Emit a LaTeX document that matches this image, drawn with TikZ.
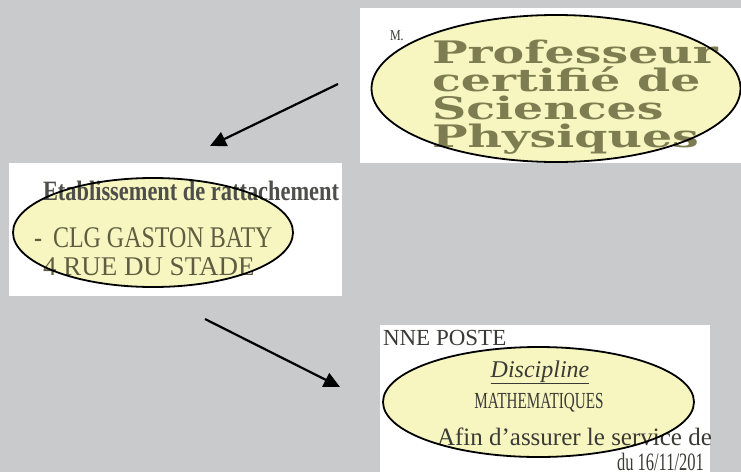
\documentclass[tikz,border=0pt]{standalone}
\usepackage{fontspec}
\setmainfont{Liberation Serif}
\newfontfamily\slabfont[FakeStretch=1.53]{DejaVu Serif}
\newfontfamily\narrowfont[FakeStretch=0.8]{Liberation Serif}
\newfontfamily\condfont[FakeStretch=0.66]{Liberation Serif}
\usetikzlibrary{arrows.meta,shapes.geometric,positioning}

\definecolor{bggray}{HTML}{C9CACC}
\definecolor{paleyellow}{HTML}{F7F6C0}
\definecolor{slabolive}{HTML}{7E7D52}
\definecolor{oliveink}{HTML}{5E5D42}
\definecolor{darkink}{HTML}{3A3A36}

\begin{document}
\begin{tikzpicture}[x=1pt,y=-1pt,
  % STYLES
  every node/.style={inner sep=0pt,outer sep=0pt},
  % OWNs
  panel/.style={rectangle,fill=white,draw=none},
  oval/.style={ellipse,fill=paleyellow,draw=none},
  ring/.style={ellipse,draw=black,line width=1.8pt,fill=none},
  slab/.style={anchor=base west,text=slabolive,font=\slabfont\bfseries\fontsize{31}{31}\selectfont},
  etab/.style={anchor=base west,text=oliveink,font=\narrowfont\fontsize{30}{32}\selectfont},
  doc/.style={text=darkink,font=\fontsize{24}{26}\selectfont},
  link/.style={-{Triangle[length=16pt,width=15pt]},line width=2.2pt}]

  \fill[bggray] (0,0) rectangle (741,472);
  \useasboundingbox (0,0) rectangle (741,472);

  % grade
  \node[panel,anchor=north west,minimum width=381pt,minimum height=155pt] (box1) at (360,8) {};
  \node[oval,minimum width=369pt,minimum height=147pt] (prof) at (556,88.5) {};
  \node[anchor=base west,text=darkink,font=\narrowfont\fontsize{15}{15}\selectfont] (mr) at (390,40) {M.};
  \node[slab] (p1) at (432,63) {Professeur};
  \node[slab] (p2) at (432,91) {certifié de};
  \node[slab] (p3) at (432,119) {Sciences};
  \node[slab] (p4) at (432,147) {Physiques};
  \node[ring,minimum width=369pt,minimum height=147pt] (profring) at (prof) {};

  % etablissement
  \node[panel,anchor=north west,minimum width=333pt,minimum height=133pt] (box2) at (9,163) {};
  \node[oval,minimum width=280pt,minimum height=109pt] (clg) at (153,232.5) {};
  \node[anchor=base west,text=darkink!90,font=\narrowfont\bfseries\fontsize{28}{30}\selectfont] (etab) at (43,200) {Etablissement de rattachement};
  \node[etab] (tiret) at (34,247) {-};
  \node[etab] (clgname) at (53,247) {CLG GASTON BATY};
  \node[etab,font=\fontsize{27}{29}\selectfont] (clgrue) at (43,275) {4 RUE DU STADE};
  \node[ring,minimum width=280pt,minimum height=109pt] (clgring) at (clg) {};

  % discipline
  \node[panel,anchor=north west,minimum width=330pt,minimum height=147pt] (box3) at (380,325) {};
  \node[oval,minimum width=311pt,minimum height=110pt] (disc) at (538.5,402) {};
  \begin{scope}
    \clip (box3.north west) rectangle (box3.south east);
    \node[doc,anchor=base west,font=\fontsize{23}{25}\selectfont] (poste) at (383,345) {NNE POSTE};
    \node[doc,anchor=base] (disctitle) at (540,377) {\underline{\textit{Discipline}}};
    \node[doc,anchor=base,font=\condfont\fontsize{23}{25}\selectfont] (math) at (539,408) {MATHEMATIQUES};
    \node[doc,anchor=base west,font=\fontsize{25}{27}\selectfont] (afin) at (437,445) {Afin d’assurer le service de};
    \node[doc,anchor=base west,font=\condfont\fontsize{25}{27}\selectfont] (date) at (617,470) {du 16/11/201};
  \end{scope}
  \node[ring,minimum width=311pt,minimum height=110pt] (discring) at (disc) {};

  % arrows
  \coordinate (a1s) at (338,84);
  \coordinate (a1e) at (210,146);
  \coordinate (a2s) at (205,319);
  \coordinate (a2e) at (340,387);
  \draw[link] (a1s) -- (a1e);
  \draw[link] (a2s) -- (a2e);
\end{tikzpicture}
\end{document}
